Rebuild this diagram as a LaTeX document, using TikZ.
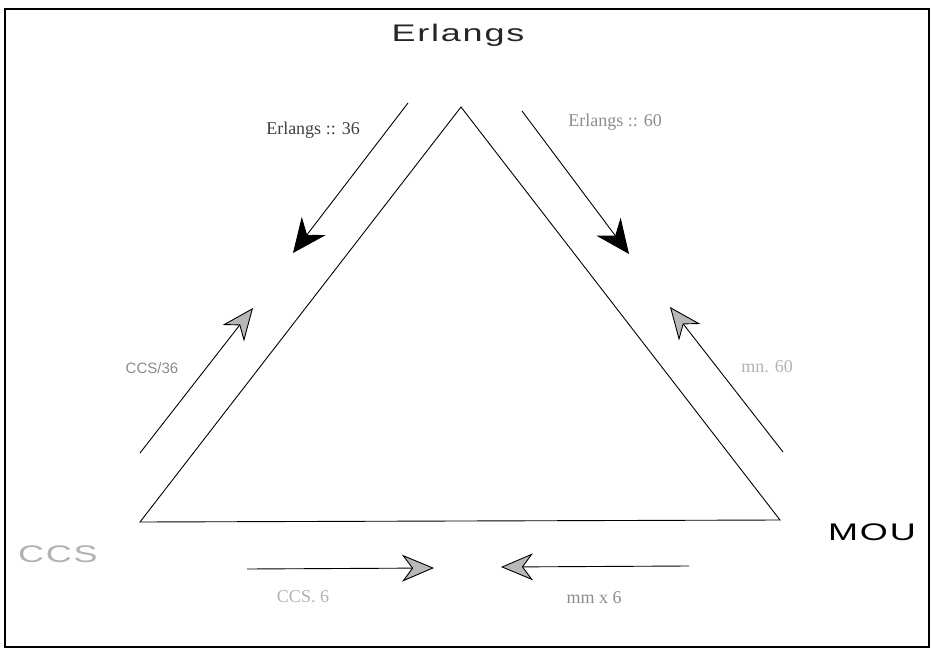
\documentclass[tikz,border=0pt]{standalone}
\usepackage{graphicx}
\usepackage{fontspec}
\setmainfont{Liberation Serif}
\setsansfont{Liberation Sans}
\newfontfamily\widesans[LetterSpace=5]{Liberation Sans}
\newcommand{\widetext}[1]{\scalebox{1.5}[1]{\widesans\fontsize{24}{26}\selectfont #1}}
\usetikzlibrary{arrows.meta}
\definecolor{lbl}{gray}{0.55}
\definecolor{lbllight}{gray}{0.7}
\definecolor{headgray}{gray}{0.72}
\tikzset{
  x=1pt,y=-1pt,
  edge/.style={line width=0.9pt,black},
  blackhead/.style={edge,-{Stealth[length=34pt,width=30pt,inset=11pt,fill=black]}},
  grayhead/.style={edge,-{Stealth[length=32pt,width=27pt,inset=10pt,fill=headgray]}},
  cornerlbl/.style={inner sep=1pt},
  smallserif/.style={font=\fontsize{18}{20}\selectfont},
  smallsans/.style={font=\sffamily\fontsize{15}{17}\selectfont}
}
\begin{document}
\begin{tikzpicture}
\useasboundingbox (0,0) rectangle (932,650);
\fill[white] (0,0) rectangle (932,650);
\draw[line width=1.6pt] (5,9) rectangle (929,647);
% triangle
\coordinate (A) at (461,107);
\coordinate (B) at (140,522);
\coordinate (C) at (780,520);
\draw[edge] (A) -- (B) -- (C) -- cycle;
% corner labels
\node[cornerlbl,text=black!85] (erl) at (458,35) {\widetext{Erlangs}};
\node[cornerlbl,text=black] (mou) at (872,532) {\widetext{MOU}};
\node[cornerlbl,text=lbllight] (ccs) at (58,554) {\widetext{CCS}};
% arrow end points
\coordinate (e36s) at (408,103); \coordinate (e36t) at (293,253);
\coordinate (e60s) at (522,111); \coordinate (e60t) at (629,254);
\coordinate (c36s) at (140,453); \coordinate (c36t) at (253,308);
\coordinate (m60s) at (783,452); \coordinate (m60t) at (670,307);
\coordinate (c6s) at (247,569); \coordinate (c6t) at (434,568);
\coordinate (m6s) at (689,566); \coordinate (m6t) at (501,567);
\draw[blackhead] (e36s) -- (e36t);
\draw[blackhead] (e60s) -- (e60t);
\draw[grayhead] (c36s) -- (c36t);
\draw[grayhead] (m60s) -- (m60t);
\draw[grayhead] (c6s) -- (c6t);
\draw[grayhead] (m6s) -- (m6t);
% arrow labels
\node[smallserif,text=black!75] (l36) at (313,130) {Erlangs :: 36};
\node[smallserif,text=lbl] (l60) at (615,122) {Erlangs :: 60};
\node[smallsans,text=lbl] (lc36) at (152,368) {CCS/36};
\node[smallserif,text=lbllight] (lm60) at (767,367) {mn. 60};
\node[smallserif,text=lbllight] (lc6) at (303,597) {CCS. 6};
\node[smallserif,text=lbl] (lm6) at (594,598) {mm x 6};
\end{tikzpicture}
\end{document}
